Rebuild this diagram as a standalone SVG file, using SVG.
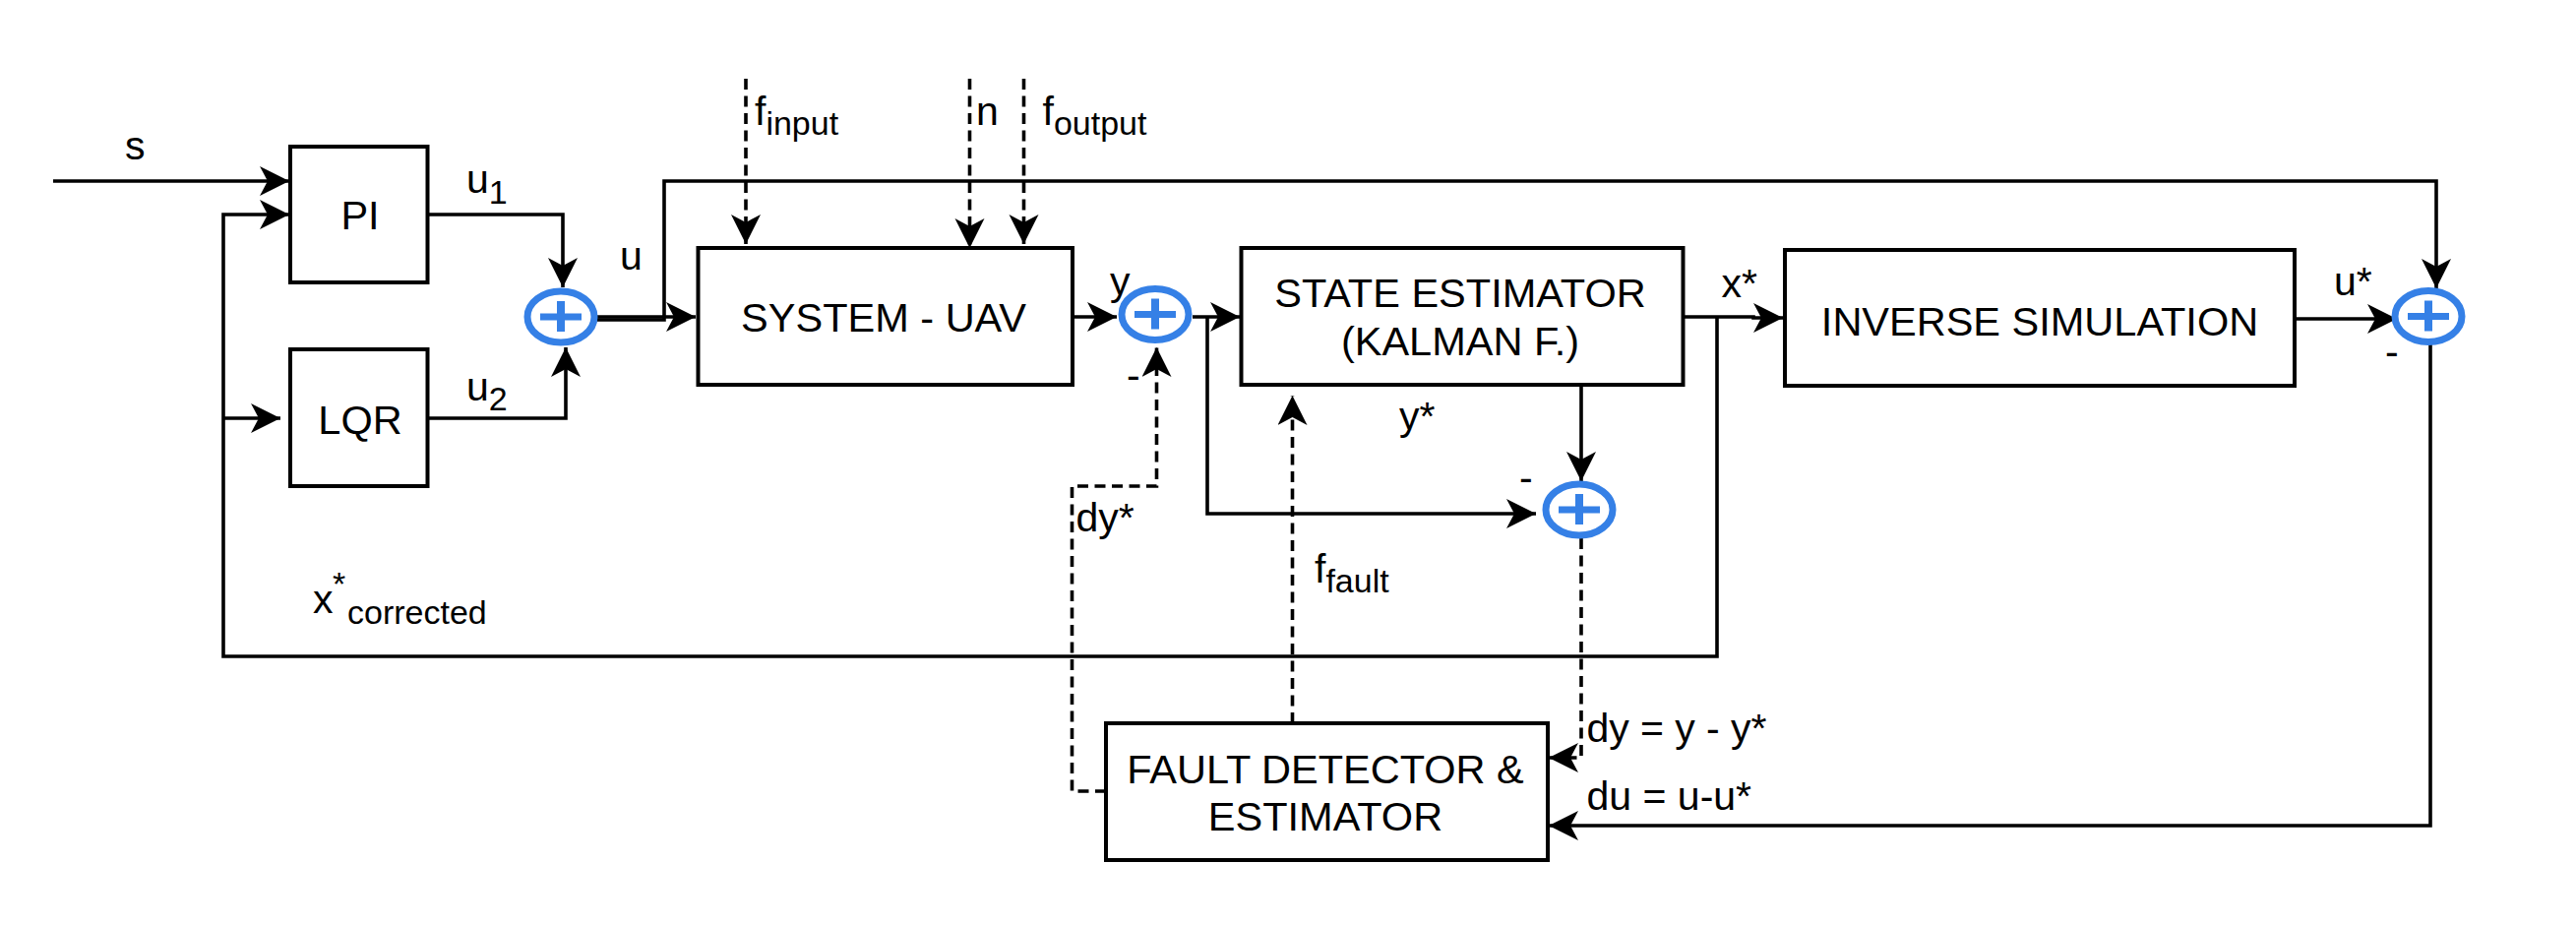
<svg xmlns="http://www.w3.org/2000/svg" width="2618" height="940" viewBox="0 0 2618 940">
<style>
text{font-family:"Liberation Sans",Arial,sans-serif;font-size:41px;fill:#000}
.t{font-size:41.500px;text-anchor:middle}
.s{font-size:34px}
.b{fill:#fff;stroke:#000;stroke-width:4}
.w{fill:none;stroke:#000;stroke-width:3.600;marker-end:url(#a)}
.p{fill:none;stroke:#000;stroke-width:3.600}
.d{stroke-dasharray:11 6.500}
.c{fill:#fff;stroke:#3580e6;stroke-width:7}
.x{fill:#3580e6}
</style>
<defs>
<marker id="a" markerUnits="userSpaceOnUse" markerWidth="32" markerHeight="32" refX="30" refY="15" orient="auto"><path d="M0 0L30 15L0 30L8 15Z" fill="#000"/></marker>
</defs>
<rect width="2618" height="940" fill="#fff"/>
<g id="connectors">
<path class="w" d="M54 184H294"/>
<path class="w" d="M1745 322V667H227V218H294"/>
<path class="w" d="M227 425H285"/>
<path class="w" d="M435 218H572V292"/>
<path class="w" d="M435 425H575V353"/>
<path class="w" d="M607 322H707"/>
<path class="w" d="M607 325H675V184H2476V293"/>
<path class="w d" d="M758 80V248"/>
<path class="w d" d="M985.500 80V252"/>
<path class="w d" d="M1040.500 80V248"/>
<path class="w" d="M1090 322H1135"/>
<path class="w" d="M1212 322H1260"/>
<path class="w" d="M1227 322V522H1561"/>
<path class="w" d="M1607 391V489"/>
<path class="w" d="M1711 322H1782V323H1812"/>
<path class="w" d="M2332 324H2436"/>
<path class="w" d="M2470 350V839H1574"/>
<path class="w d" d="M1607 547V770H1574"/>
<path class="w d" d="M1313.500 735V402"/>
<path class="w d" d="M1124 804H1089.500V494H1175.500V353"/>
</g>
<g id="pi"><rect class="b" x="295" y="149" width="139.500" height="138"/><text class="t" x="366" y="233">PI</text></g>
<g id="lqr"><rect class="b" x="295" y="355" width="139.500" height="139"/><text class="t" x="366" y="441">LQR</text></g>
<g id="system"><rect class="b" x="709.500" y="252" width="380.500" height="139"/><text class="t" x="898" y="337">SYSTEM - UAV</text></g>
<g id="estimator"><rect class="b" x="1261.500" y="252" width="449" height="139"/><text class="t" x="1484" y="312">STATE ESTIMATOR</text><text class="t" x="1484" y="361">(KALMAN F.)</text></g>
<g id="inverse"><rect class="b" x="1814" y="254" width="518" height="138"/><text class="t" x="2073" y="341">INVERSE SIMULATION</text></g>
<g id="fault"><rect class="b" x="1124" y="735" width="449" height="139"/><text class="t" x="1347" y="796">FAULT DETECTOR &amp;</text><text class="t" x="1347" y="844">ESTIMATOR</text></g>
<g id="sum1"><ellipse class="c" cx="570" cy="322" rx="34" ry="26"/><path class="x" d="M549 318.500H566V306H574V318.500H591V325.500H574V337H566V325.500H549Z"/></g>
<g id="sum2"><ellipse class="c" cx="1174" cy="319.500" rx="34" ry="26"/><path class="x" d="M1153 316H1170V303.500H1178V316H1195V323H1178V334.500H1170V323H1153Z"/></g>
<g id="sum3"><ellipse class="c" cx="1605" cy="518" rx="34" ry="26"/><path class="x" d="M1584 514.500H1601V502H1609V514.500H1626V521.500H1609V533H1601V521.500H1584Z"/></g>
<g id="sum4"><ellipse class="c" cx="2468" cy="321.500" rx="34" ry="26"/><path class="x" d="M2447 318H2464V305.500H2472V318H2489V325H2472V336.500H2464V325H2447Z"/></g>
<g id="labels">
<text x="127" y="162">s</text>
<text x="474" y="196">u<tspan class="s" dy="11">1</tspan></text>
<text x="474" y="407">u<tspan class="s" dy="10">2</tspan></text>
<text x="630" y="274">u</text>
<text x="767" y="127">f<tspan class="s" dy="10">input</tspan></text>
<text x="992" y="127">n</text>
<text x="1059.500" y="127">f<tspan class="s" dy="10">output</tspan></text>
<text x="1128" y="300">y</text>
<text x="1145" y="395">-</text>
<text x="1422" y="437">y*</text>
<text x="1749.500" y="302">x*</text>
<text x="1544" y="499">-</text>
<text x="2372" y="300">u*</text>
<text x="2424" y="371">-</text>
<text x="1093.500" y="540">dy*</text>
<text x="1336" y="592">f<tspan class="s" dy="10">fault</tspan></text>
<text x="1612.500" y="754" textLength="183">dy = y - y*</text>
<text x="1612.500" y="823">du = u-u*</text>
<text x="318" y="623">x<tspan class="s" x="338" y="605">*</tspan><tspan class="s" x="353" y="634">corrected</tspan></text>
</g>
</svg>
